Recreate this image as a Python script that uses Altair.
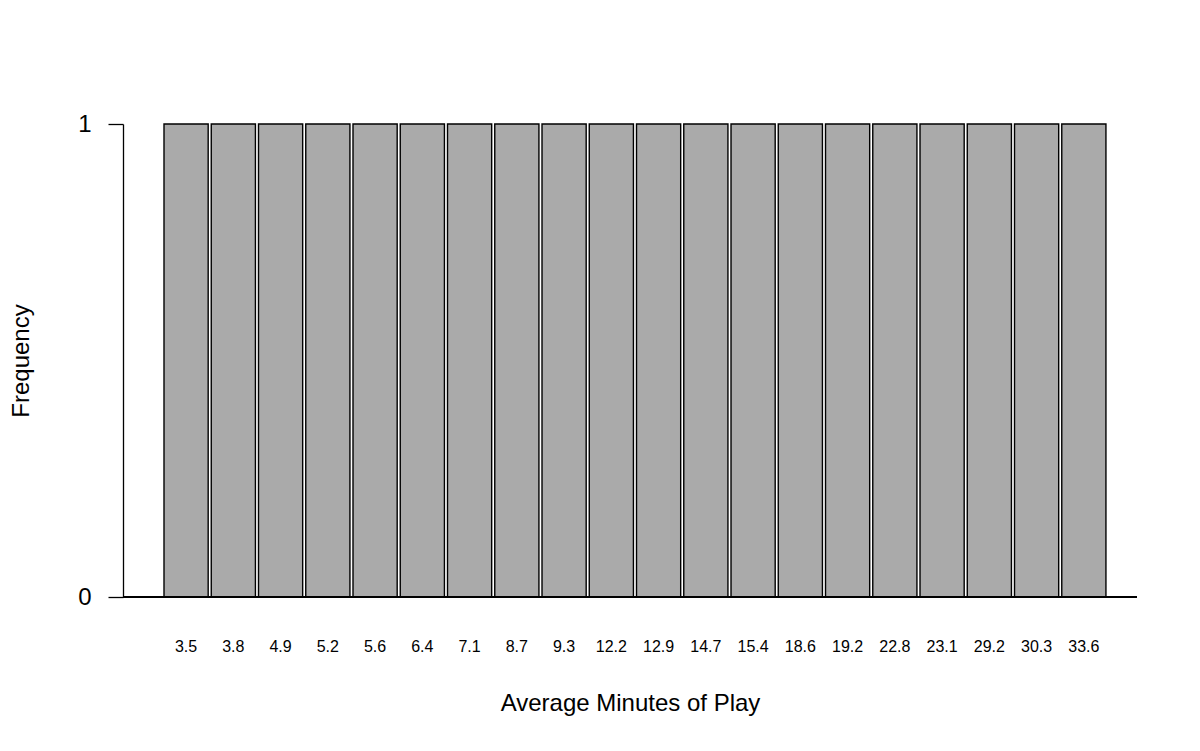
import altair as alt
import pandas as pd

minutes = ["3.5", "3.8", "4.9", "5.2", "5.6", "6.4", "7.1", "8.7", "9.3", "12.2",
           "12.9", "14.7", "15.4", "18.6", "19.2", "22.8", "23.1", "29.2", "30.3", "33.6"]
frequency = [1] * 20

df = pd.DataFrame({"minutes": minutes, "freq": frequency})
FONT = "Liberation Sans"

x = alt.X("minutes:N", sort=None, title="Average Minutes of Play",
          scale=alt.Scale(paddingInner=0.065, paddingOuter=0.7625, align=0.569),
          axis=alt.Axis(labelAngle=0, domain=False, ticks=False, labelPadding=41,
                        labelFontSize=16, labelFont=FONT, labelColor="#000000",
                        titleFont=FONT, titleFontSize=24, titleFontWeight="normal",
                        titleColor="#000000", titlePadding=37))
y = alt.Y("freq:Q", title="Frequency",
          scale=alt.Scale(domain=[0, 1], nice=False),
          axis=alt.Axis(values=[0, 1], grid=False, domainColor="#000000", domainWidth=1.3,
                        tickColor="#000000", tickWidth=1.3, tickSize=15, labelPadding=17,
                        labelFontSize=24, labelFont=FONT, labelColor="#000000",
                        format="d", titleFont=FONT, titleFontSize=24,
                        titleFontWeight="normal", titleColor="#000000",
                        titleX=-102, titleBaseline="middle"))

bars = alt.Chart(df).mark_bar(fill="#AAAAAA", stroke="#000000", strokeWidth=1.4).encode(x=x, y=y)
base = alt.Chart(df).mark_rule(color="#000000", strokeWidth=1.3).encode(y=alt.datum(0))

chart = alt.layer(bars, base).properties(
    width=1014, height=473,
    background="#FFFFFF",
    autosize=alt.AutoSizeParams(type="none"),
    padding={"left": 115, "top": 116, "right": 40, "bottom": 130},
).configure_view(strokeWidth=0, stroke="transparent")

chart.save("out.html", embed_options={"renderer": "svg", "actions": False})
